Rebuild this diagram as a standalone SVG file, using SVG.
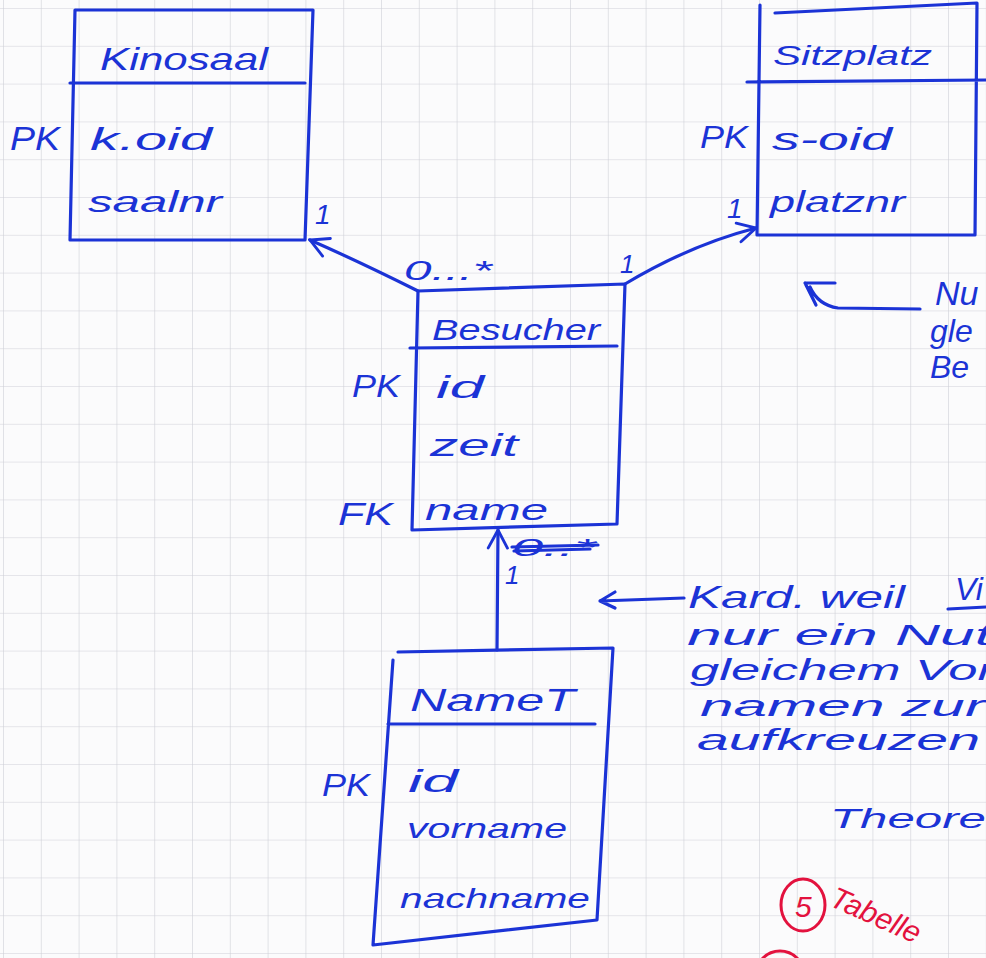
<svg xmlns="http://www.w3.org/2000/svg" width="986" height="958" viewBox="0 0 986 958">
<defs>
<pattern id="grid" x="3" y="8" width="37.8" height="37.8" patternUnits="userSpaceOnUse">
<path d="M0,0 H37.8 M0,0 V37.8" fill="none" stroke="#cfd0d8" stroke-width="1.2"/>
</pattern>
<marker id="ah" viewBox="0 0 20 20" refX="18" refY="10" markerWidth="24" markerHeight="24" markerUnits="userSpaceOnUse" orient="auto">
<path d="M3,2 L18,10 L3,18" fill="none" stroke="#1b33d6" stroke-width="2.4" stroke-linecap="round"/>
</marker>
</defs>
<style>
.ink{fill:none;stroke:#1b33d6;stroke-width:3.2;stroke-linecap:round;stroke-linejoin:round}
.t{font-family:"Liberation Sans","DejaVu Sans",sans-serif;fill:#1b33d6;font-style:italic}
.red{fill:none;stroke:#e3123e;stroke-width:3;stroke-linecap:round}
.rt{font-family:"Liberation Sans","DejaVu Sans",sans-serif;fill:#e3123e;font-style:italic}
</style>
<rect width="986" height="958" fill="#fbfbfc"/>
<rect width="986" height="958" fill="url(#grid)"/>

<g id="kinosaal">
<path class="ink" d="M75,10 L313,10 L305,240 L70,240 Z M70,83 L305,83"/>
<text class="t" x="100" y="70" font-size="32" textLength="168" lengthAdjust="spacingAndGlyphs">Kinosaal</text>
<text class="t" x="10" y="150" font-size="34" textLength="50" lengthAdjust="spacingAndGlyphs">PK</text>
<text class="t" x="90" y="150" font-size="32" textLength="122" lengthAdjust="spacingAndGlyphs">k.oid</text>
<text class="t" x="88" y="212" font-size="30" textLength="134" lengthAdjust="spacingAndGlyphs">saalnr</text>
</g>

<g id="sitzplatz">
<path class="ink" d="M760,5 L757,235 L975,235 L977,3 L775,13 M747,82 L986,80"/>
<text class="t" x="773" y="65" font-size="28" textLength="159" lengthAdjust="spacingAndGlyphs">Sitzplatz</text>
<text class="t" x="700" y="148" font-size="32" textLength="48" lengthAdjust="spacingAndGlyphs">PK</text>
<text class="t" x="772" y="150" font-size="32" textLength="120" lengthAdjust="spacingAndGlyphs">s-oid</text>
<text class="t" x="770" y="212" font-size="30" textLength="135" lengthAdjust="spacingAndGlyphs">platznr</text>
</g>

<g id="besucher">
<path class="ink" d="M418,291 L625,284 L617,524 L412,530 Z M410,348 L617,346"/>
<text class="t" x="432" y="340" font-size="30" textLength="168" lengthAdjust="spacingAndGlyphs">Besucher</text>
<text class="t" x="352" y="397" font-size="32" textLength="48" lengthAdjust="spacingAndGlyphs">PK</text>
<text class="t" x="436" y="398" font-size="32" textLength="48" lengthAdjust="spacingAndGlyphs">id</text>
<text class="t" x="430" y="456" font-size="32" textLength="88" lengthAdjust="spacingAndGlyphs">zeit</text>
<text class="t" x="338" y="525" font-size="32" textLength="55" lengthAdjust="spacingAndGlyphs">FK</text>
<text class="t" x="425" y="520" font-size="30" textLength="123" lengthAdjust="spacingAndGlyphs">name</text>
</g>

<g id="namet">
<path class="ink" d="M398,652 L613,648 L597,920 L373,945 M393,660 L373,945 M388,724 L595,724"/>
<text class="t" x="410" y="711" font-size="32" textLength="165" lengthAdjust="spacingAndGlyphs">NameT</text>
<text class="t" x="322" y="796" font-size="32" textLength="48" lengthAdjust="spacingAndGlyphs">PK</text>
<text class="t" x="408" y="792" font-size="32" textLength="50" lengthAdjust="spacingAndGlyphs">id</text>
<text class="t" x="407" y="838" font-size="28" textLength="160" lengthAdjust="spacingAndGlyphs">vorname</text>
<text class="t" x="400" y="908" font-size="28" textLength="190" lengthAdjust="spacingAndGlyphs">nachname</text>
</g>

<g id="connectors">
<path class="ink" d="M418,291 Q360,262 310,240" marker-end="url(#ah)"/>
<path class="ink" d="M625,284 Q690,245 756,228" marker-end="url(#ah)"/>
<path class="ink" d="M497,650 L498,530" marker-end="url(#ah)"/>
<text class="t" x="315" y="224" font-size="28">1</text>
<text class="t" x="404" y="280" font-size="28" textLength="88" lengthAdjust="spacingAndGlyphs">0...*</text>
<text class="t" x="620" y="273" font-size="26">1</text>
<text class="t" x="727" y="218" font-size="28">1</text>
<text class="t" x="512" y="556" font-size="24" textLength="84" lengthAdjust="spacingAndGlyphs">0..*</text>
<path class="ink" d="M512,547 L598,545 M514,551 L590,549" stroke-width="4"/>
<text class="t" x="505" y="584" font-size="26">1</text>
</g>

<g id="notes">
<path class="ink" d="M920,309 L838,308 Q818,305 810,287 M805,283 L835,283 M805,283 L816,305" stroke-width="2.8"/>
<text class="t" x="935" y="305" font-size="34">Nu</text>
<text class="t" x="930" y="342" font-size="32">gle</text>
<text class="t" x="930" y="378" font-size="32">Be</text>
<path class="ink" d="M684,598 L600,601 M600,601 L615,592 M600,601 L615,608" stroke-width="2.8"/>
<text class="t" x="688" y="608" font-size="32" textLength="217" lengthAdjust="spacingAndGlyphs">Kard. weil</text>
<text class="t" x="955" y="600" font-size="32">Vi</text>
<path class="ink" d="M948,609 L986,607" stroke-width="2.8"/>
<text class="t" x="687" y="645" font-size="30" textLength="305" lengthAdjust="spacingAndGlyphs">nur ein Nut</text>
<text class="t" x="690" y="680" font-size="30" textLength="305" lengthAdjust="spacingAndGlyphs">gleichem Vor</text>
<text class="t" x="700" y="716" font-size="30" textLength="285" lengthAdjust="spacingAndGlyphs">namen zur</text>
<text class="t" x="697" y="750" font-size="30" textLength="283" lengthAdjust="spacingAndGlyphs">aufkreuzen</text>
<text class="t" x="830" y="828" font-size="28" textLength="156" lengthAdjust="spacingAndGlyphs">Theore</text>
<ellipse class="red" cx="803" cy="905" rx="22" ry="26" stroke-width="2.5"/>
<text class="rt" x="795" y="917" font-size="30">5</text>
<text class="rt" x="828" y="905" font-size="30" transform="rotate(24 828 905)">Tabelle</text>
<circle class="red" cx="780" cy="975" r="24" stroke-width="2.5"/>
</g>
</svg>
